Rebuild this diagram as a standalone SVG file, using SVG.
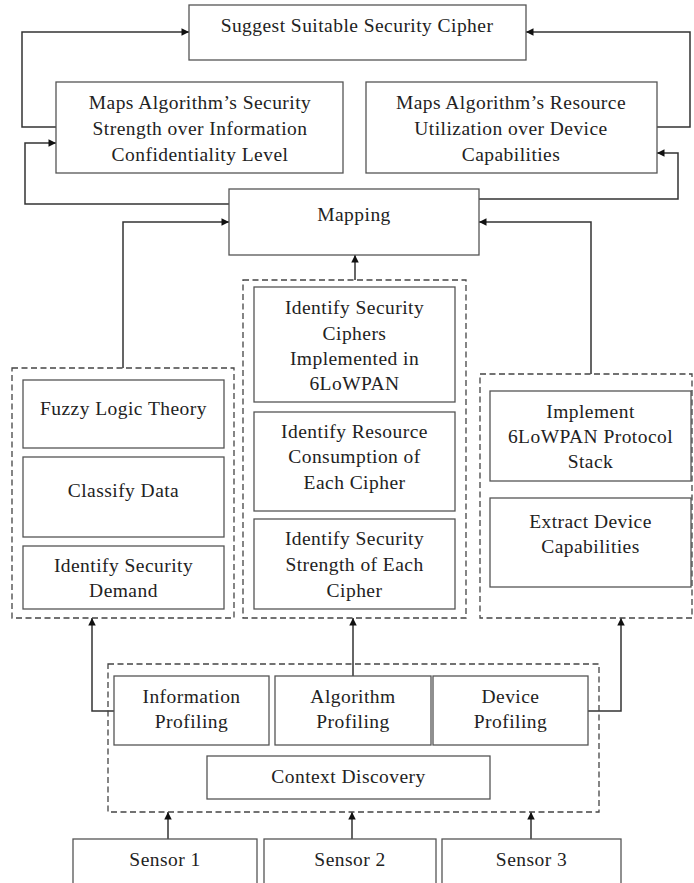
<svg xmlns="http://www.w3.org/2000/svg" width="694" height="883" viewBox="0 0 694 883">
<style>
.box{fill:#fff;stroke:#555;stroke-width:1.3}
.dash{fill:none;stroke:#444;stroke-width:1.3;stroke-dasharray:6 3.5}
.c{fill:none;stroke:#333;stroke-width:1.5}
text{font-family:"Liberation Serif","Times New Roman",serif;font-size:19.5px;letter-spacing:0.45px;fill:#222;text-anchor:middle}
</style>
<defs>
<marker id="ah" viewBox="0 0 10 10" refX="10" refY="5" markerWidth="9" markerHeight="7.5" markerUnits="userSpaceOnUse" orient="auto">
<path d="M0,0 L10,5 L0,10 z" fill="#111"/>
</marker>
</defs>
<rect width="694" height="883" fill="#fff"/>

<g id="connectors">
<path class="c" d="M56,127 H22 V32 H189" marker-end="url(#ah)"/>
<path class="c" d="M229,204 H25 V143 H56" marker-end="url(#ah)"/>
<path class="c" d="M657,127 H690 V32 H526" marker-end="url(#ah)"/>
<path class="c" d="M479,199 H678 V153 H657" marker-end="url(#ah)"/>
<path class="c" d="M123,368 V222 H229" marker-end="url(#ah)"/>
<path class="c" d="M591,374 V222 H479" marker-end="url(#ah)"/>
<path class="c" d="M355,280 V255" marker-end="url(#ah)"/>
<path class="c" d="M114,711 H92 V618" marker-end="url(#ah)"/>
<path class="c" d="M353,676 V618" marker-end="url(#ah)"/>
<path class="c" d="M588,711 H621 V618" marker-end="url(#ah)"/>
<path class="c" d="M168,839 V812" marker-end="url(#ah)"/>
<path class="c" d="M352,839 V812" marker-end="url(#ah)"/>
<path class="c" d="M531,839 V812" marker-end="url(#ah)"/>
</g>

<g id="groups">
<rect id="grp-info" class="dash" x="12" y="368" width="222" height="250"/>
<rect id="grp-algo" class="dash" x="243" y="280" width="223" height="338"/>
<rect id="grp-device" class="dash" x="480" y="374" width="212" height="244"/>
<rect id="grp-context" class="dash" x="108" y="664" width="491" height="148"/>
</g>

<g id="suggest"><rect class="box" x="189" y="5" width="337" height="55"/><text x="357" y="32">Suggest Suitable Security Cipher</text></g>
<g id="maps-security"><rect class="box" x="56" y="82" width="287" height="91"/><text x="200" y="109">Maps Algorithm’s Security</text><text x="200" y="135">Strength over Information</text><text x="200" y="161">Confidentiality Level</text></g>
<g id="maps-resource"><rect class="box" x="366" y="82" width="291" height="91"/><text x="511" y="109">Maps Algorithm’s Resource</text><text x="511" y="135">Utilization over Device</text><text x="511" y="161">Capabilities</text></g>
<g id="mapping"><rect class="box" x="229" y="189" width="250" height="66"/><text x="354" y="221">Mapping</text></g>

<g id="fuzzy"><rect class="box" x="23" y="380" width="201" height="68"/><text x="123.5" y="415">Fuzzy Logic Theory</text></g>
<g id="classify"><rect class="box" x="23" y="457" width="201" height="80"/><text x="123.5" y="497">Classify Data</text></g>
<g id="demand"><rect class="box" x="23" y="546" width="201" height="63"/><text x="123.5" y="572">Identify Security</text><text x="123.5" y="597">Demand</text></g>

<g id="ciphers"><rect class="box" x="254" y="287" width="201" height="115"/><text x="354.5" y="314">Identify Security</text><text x="354.5" y="339.5">Ciphers</text><text x="354.5" y="365">Implemented in</text><text x="354.5" y="390">6LoWPAN</text></g>
<g id="resource"><rect class="box" x="254" y="412" width="201" height="99"/><text x="354.5" y="438">Identify Resource</text><text x="354.5" y="463">Consumption of</text><text x="354.5" y="489">Each Cipher</text></g>
<g id="strength"><rect class="box" x="254" y="519" width="201" height="90"/><text x="354.5" y="545">Identify Security</text><text x="354.5" y="571">Strength of Each</text><text x="354.5" y="597">Cipher</text></g>

<g id="stack"><rect class="box" x="490" y="391" width="201" height="90"/><text x="590.5" y="418">Implement</text><text x="590.5" y="443">6LoWPAN Protocol</text><text x="590.5" y="468">Stack</text></g>
<g id="extract"><rect class="box" x="490" y="498" width="201" height="89"/><text x="590.5" y="528">Extract Device</text><text x="590.5" y="553">Capabilities</text></g>

<g id="info-profiling"><rect class="box" x="114" y="676" width="155" height="69"/><text x="191.5" y="703">Information</text><text x="191.5" y="728">Profiling</text></g>
<g id="algo-profiling"><rect class="box" x="275" y="676" width="156" height="69"/><text x="353" y="703">Algorithm</text><text x="353" y="728">Profiling</text></g>
<g id="device-profiling"><rect class="box" x="433" y="676" width="155" height="69"/><text x="510.5" y="703">Device</text><text x="510.5" y="728">Profiling</text></g>
<g id="context"><rect class="box" x="207" y="756" width="283" height="43"/><text x="348.5" y="783">Context Discovery</text></g>

<g id="sensor1"><rect class="box" x="73" y="839" width="184" height="60"/><text x="165" y="866">Sensor 1</text></g>
<g id="sensor2"><rect class="box" x="264" y="839" width="172" height="60"/><text x="350" y="866">Sensor 2</text></g>
<g id="sensor3"><rect class="box" x="442" y="839" width="179" height="60"/><text x="531.5" y="866">Sensor 3</text></g>
</svg>
